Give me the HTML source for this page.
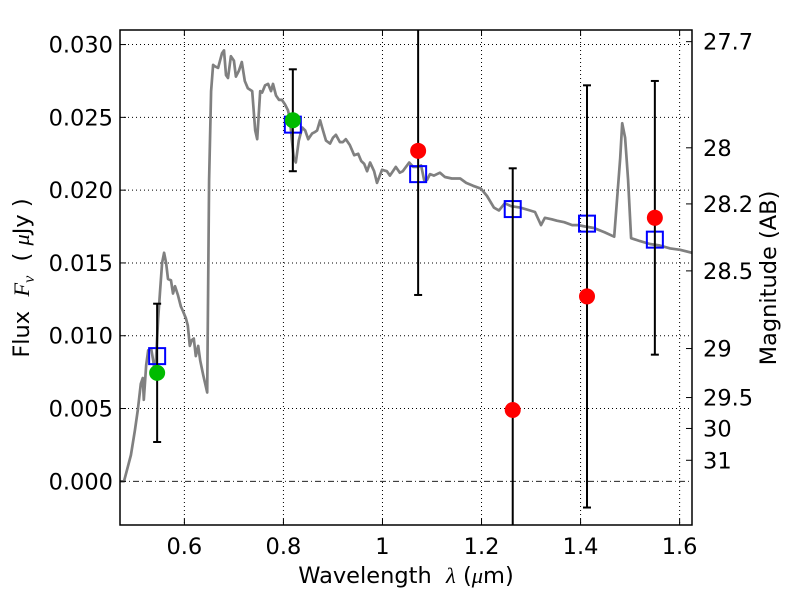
<!DOCTYPE html>
<html><head><meta charset="utf-8"><style>
html,body{margin:0;padding:0;background:#fff;width:800px;height:600px;overflow:hidden}
svg{display:block}
svg text{font-family:"DejaVu Sans","Liberation Sans",sans-serif;fill:#000;white-space:pre}
</style></head><body>
<svg id="chart" width="800" height="600" xmlns="http://www.w3.org/2000/svg"></svg>
<script>
const specLam=[0.470,0.478,0.484,0.492,0.500,0.506,0.512,0.516,0.518,0.523,0.527,0.533,0.537,0.541,0.547,0.551,0.555,0.559,0.563,0.567,0.573,0.577,0.581,0.587,0.593,0.597,0.603,0.607,0.611,0.615,0.619,0.623,0.628,0.632,0.638,0.646,0.650,0.654,0.658,0.662,0.668,0.676,0.680,0.684,0.688,0.694,0.700,0.704,0.710,0.716,0.722,0.728,0.737,0.743,0.747,0.753,0.757,0.763,0.769,0.775,0.779,0.785,0.791,0.797,0.803,0.809,0.813,0.817,0.821,0.825,0.831,0.838,0.844,0.850,0.858,0.864,0.868,0.874,0.880,0.886,0.894,0.900,0.906,0.914,0.920,0.926,0.934,0.943,0.951,0.957,0.963,0.969,0.975,0.983,0.989,0.999,1.009,1.015,1.021,1.027,1.035,1.041,1.054,1.062,1.072,1.078,1.084,1.090,1.096,1.104,1.116,1.126,1.140,1.157,1.169,1.183,1.199,1.211,1.225,1.235,1.247,1.260,1.278,1.298,1.308,1.320,1.328,1.342,1.352,1.367,1.383,1.395,1.409,1.427,1.449,1.468,1.480,1.484,1.490,1.496,1.502,1.520,1.540,1.560,1.581,1.601,1.625];
const specFlux=[0,0,0.00076,0.0018,0.0035,0.0049,0.0067,0.0071,0.0056,0.0080,0.0090,0.0091,0.0083,0.0073,0.0111,0.0131,0.0150,0.0157,0.0150,0.0139,0.0138,0.0129,0.0134,0.0128,0.0120,0.0117,0.0112,0.0107,0.0093,0.0097,0.0098,0.0086,0.0093,0.0083,0.0073,0.0061,0.0207,0.0268,0.0286,0.0285,0.0284,0.0294,0.0296,0.0279,0.0277,0.0292,0.0289,0.0278,0.0282,0.0288,0.0275,0.0270,0.0268,0.0241,0.0235,0.0268,0.0267,0.0272,0.0273,0.0268,0.0273,0.0265,0.0262,0.0262,0.0259,0.0255,0.0249,0.0235,0.0222,0.0219,0.0234,0.0243,0.0241,0.0235,0.0239,0.0240,0.0241,0.0248,0.0241,0.0234,0.0232,0.0236,0.0238,0.0233,0.0233,0.0235,0.0231,0.0224,0.0225,0.0220,0.0218,0.0213,0.0219,0.0213,0.0205,0.0214,0.0213,0.0210,0.0213,0.0216,0.0212,0.0213,0.0219,0.0216,0.0216,0.0217,0.0207,0.0207,0.0211,0.0210,0.0212,0.0209,0.0208,0.0208,0.0205,0.0203,0.0201,0.0196,0.0188,0.0186,0.0191,0.0189,0.0188,0.0186,0.0185,0.0176,0.0181,0.0180,0.0179,0.0178,0.0176,0.0176,0.0175,0.0174,0.0171,0.0168,0.0222,0.0246,0.0236,0.0207,0.0167,0.0165,0.0163,0.0162,0.0160,0.0159,0.0157];
const bandLam=[0.545,0.819,1.072,1.263,1.413,1.550];
const obsFlux=[0.00745,0.0248,0.0227,0.0049,0.0127,0.0181];
const obsErr=[0.00475,0.0035,0.0099,0.0166,0.0145,0.0094];
const obsColor=["#00bb00","#00bb00","#ff0000","#ff0000","#ff0000","#ff0000"];
const modelFlux=[0.0086,0.0245,0.0211,0.0187,0.0177,0.0166];
const xTicks=[0.6,0.8,1.0,1.2,1.4,1.6];
const xTickLabels=["0.6","0.8","1","1.2","1.4","1.6"];
const yTicks=[0,0.005,0.010,0.015,0.020,0.025,0.030];
const yTickLabels=["0.000","0.005","0.010","0.015","0.020","0.025","0.030"];
const magTicks=[27.7,28,28.2,28.5,29,29.5,30,31];
const magTickLabels=["27.7","28","28.2","28.5","29","29.5","30","31"];

const L=120,R=692,T=30,B=525,X0=0.47,X1=1.625,Y0=-0.003,Y1=0.031;
const sx=v=>L+(v-X0)/(X1-X0)*(R-L);
const sy=v=>B-(v-Y0)/(Y1-Y0)*(B-T);
const svg=document.getElementById('chart');
const NS="http://www.w3.org/2000/svg";
function mk(tag,attrs,parent){const e=document.createElementNS(NS,tag);for(const k in attrs)e.setAttribute(k,attrs[k]);(parent||svg).appendChild(e);return e;}

const clip=mk('clipPath',{id:'pc'});mk('rect',{x:L,y:T,width:R-L,height:B-T},clip);

const grid=mk('g',{});


xTicks.forEach(v=>{const l=mk('line',{x1:sx(v),x2:sx(v),y1:T,y2:B,stroke:'#000','stroke-width':1,'stroke-dasharray':'1,3'},grid);

});
yTicks.forEach(v=>{if(v===0)return;const l=mk('line',{x1:L,x2:R,y1:sy(v),y2:sy(v),stroke:'#000','stroke-width':1,'stroke-dasharray':'1,3'},grid);

});
const zl=mk('line',{x1:L,x2:R,y1:sy(0),y2:sy(0),stroke:'#000','stroke-width':0.8,'stroke-dasharray':'6,3,1,3'});



let d='';specLam.forEach((v,i)=>{d+=(i?'L':'M')+sx(v).toFixed(1)+','+sy(specFlux[i]).toFixed(1);});
const sp=mk('path',{d:d,fill:'none',stroke:'#808080','stroke-width':2.7,'clip-path':'url(#pc)','stroke-linejoin':'round'});



bandLam.forEach((v,i)=>{const r=mk('rect',{x:sx(v)-8,y:sy(modelFlux[i])-8,width:16,height:16,fill:'none',stroke:'#0000ff','stroke-width':2});

});
const eg=mk('g',{'clip-path':'url(#pc)'});
bandLam.forEach((v,i)=>{const x=sx(v),y1=sy(obsFlux[i]+obsErr[i]),y2=sy(obsFlux[i]-obsErr[i]);
const g=mk('g',{},eg);


mk('line',{x1:x,x2:x,y1:y1,y2:y2,stroke:'#000','stroke-width':2},g);
mk('line',{x1:x-4,x2:x+4,y1:y1,y2:y1,stroke:'#000','stroke-width':2},g);
mk('line',{x1:x-4,x2:x+4,y1:y2,y2:y2,stroke:'#000','stroke-width':2},g);});
bandLam.forEach((v,i)=>{const c=mk('circle',{cx:sx(v),cy:sy(obsFlux[i]),r:8,fill:obsColor[i]});

});

const fr=mk('rect',{x:L,y:T,width:R-L,height:B-T,fill:'none',stroke:'#000','stroke-width':1.5});



xTicks.forEach((v,i)=>{const x=sx(v);mk('line',{x1:x,x2:x,y1:B,y2:B-6,stroke:'#000'});mk('line',{x1:x,x2:x,y1:T,y2:T+6,stroke:'#000'});
const t=mk('text',{x:x,y:B+29,'font-size':22.5,'text-anchor':'middle'});t.textContent=xTickLabels[i];

});
yTicks.forEach((v,i)=>{const y=sy(v);mk('line',{x1:L,x2:L+6,y1:y,y2:y,stroke:'#000'});
const t=mk('text',{x:L-7,y:y+8,'font-size':22.5,'text-anchor':'end'});t.textContent=yTickLabels[i];

});
magTicks.forEach((m,i)=>{const y=sy(Math.pow(10,(23.9-m)/2.5));mk('line',{x1:R,x2:R-6,y1:y,y2:y,stroke:'#000'});
const t=mk('text',{x:R+11,y:y+8,'font-size':22.5});t.textContent=magTickLabels[i];

});

const xt=mk('text',{x:406,y:583,'font-size':22.5,'text-anchor':'middle'});
xt.innerHTML='Wavelength  <tspan font-family="Liberation Serif,serif" font-style="italic">λ</tspan> (<tspan font-family="Liberation Serif,serif" font-style="italic">μ</tspan>m)';


const yt=mk('text',{x:0,y:0,'font-size':22.5,'text-anchor':'middle',transform:'translate(29,278) rotate(-90)'});
yt.innerHTML='Flux  <tspan font-family="Liberation Serif,serif" font-style="italic">F</tspan><tspan font-family="Liberation Serif,serif" font-style="italic" font-size="16" dy="5">ν</tspan><tspan dy="-5">  ( </tspan><tspan font-family="Liberation Serif,serif" font-style="italic">μ</tspan>Jy )';


const rt=mk('text',{x:0,y:0,'font-size':22.5,'text-anchor':'middle',transform:'translate(776,278) rotate(-90)'});
rt.textContent='Magnitude (AB)';


</script>
</body></html>
